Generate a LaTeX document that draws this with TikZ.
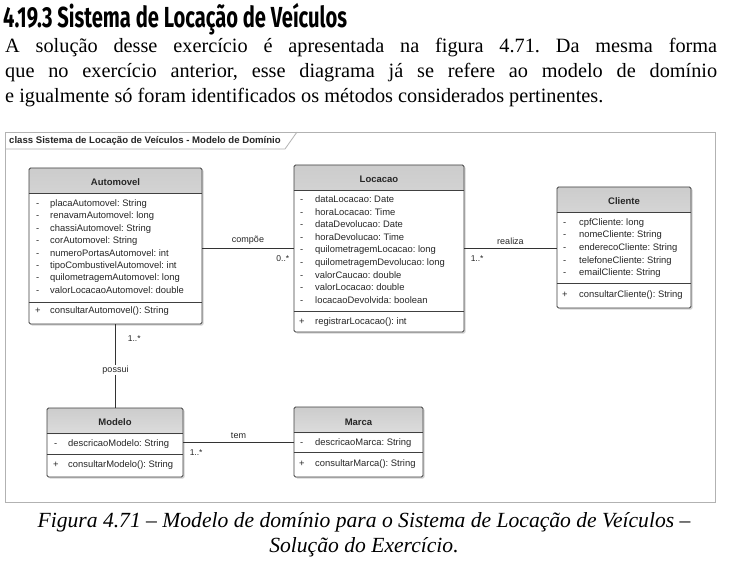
\documentclass[tikz,border=0pt]{standalone}
\usepackage{fontspec}
\setmainfont{Liberation Serif}
\setsansfont{Liberation Sans}
\newfontfamily\headfont{Fira Sans}
\usetikzlibrary{shadows}
\frenchspacing

\tikzset{
  frameline/.style={draw=black!30, line width=0.8pt},
  framelabel/.style={font=\sffamily\bfseries\fontsize{9.6}{11}\selectfont, text=black!85, inner sep=0pt},
  classbox/.style={draw=black!75, fill=white, rounded corners=1.5pt, line width=0.8pt, inner sep=0pt,
    drop shadow={shadow xshift=1.5pt, shadow yshift=-1.5pt, opacity=0.35},
    path picture={\shade[top color=black!20, bottom color=black!3]
      (path picture bounding box.north west) rectangle ([yshift=-26pt]path picture bounding box.north east);}},
  classname/.style={font=\sffamily\bfseries\fontsize{9.5}{11}\selectfont, text=black!85, inner sep=0pt},
  member/.style={font=\sffamily\fontsize{9.4}{11}\selectfont, text=black!85, anchor=west, inner sep=0pt,
    text height=7pt, text depth=2pt},
  sepline/.style={draw=black!75, line width=0.7pt},
  assoc/.style={draw=black!80, line width=0.7pt},
  assoclabel/.style={font=\sffamily\fontsize{9}{10}\selectfont, text=black!85, inner sep=1pt},
  multi/.style={font=\sffamily\fontsize{8.5}{10}\selectfont, text=black!85, inner sep=0pt}
}

\begin{document}
\begin{tikzpicture}[x=1pt,y=-1pt]
  \fill[white] (0,0) rectangle (729,567);
  \useasboundingbox (0,0) rectangle (729,567);

  % texto da pagina
  \node[anchor=base west, inner sep=0pt] (titulo) at (3,28)
    {\headfont\bfseries\fontsize{29}{32}\selectfont\scalebox{0.695}[1]{4.19.3 Sistema de Locação de Veículos}};
  \node[anchor=base west, inner sep=0pt, font=\fontsize{20.3}{25}\selectfont] (texto1) at (5,53)
    {\makebox[712pt][s]{A solução desse exercício é apresentada na figura 4.71. Da mesma forma}};
  \node[anchor=base west, inner sep=0pt, font=\fontsize{20.3}{25}\selectfont] (texto2) at (5,78)
    {\makebox[712pt][s]{que no exercício anterior, esse diagrama já se refere ao modelo de domínio}};
  \node[anchor=base west, inner sep=0pt, font=\fontsize{20.3}{25}\selectfont] (texto3) at (5,103)
    {e igualmente só foram identificados os métodos considerados pertinentes.};

  % moldura do diagrama
  \draw[frameline, fill=white] (5,132) rectangle (715,502);
  \draw[frameline] (5,149) -- (285,149) -- (297,132);
  \node[framelabel, anchor=west] (moldura) at (9,141) {class Sistema de Locação de Veículos - Modelo de Domínio};

  % Automovel
  \node[classbox, minimum width=173pt, minimum height=156pt] (auto) at (115.5,246) {};
  \node[classname] (auto-t) at (115.5,182) {Automovel};
  \draw[sepline] ([yshift=-26pt]auto.north west) -- ([yshift=-26pt]auto.north east);
  \draw[sepline] ([yshift=-135pt]auto.north west) -- ([yshift=-135pt]auto.north east);
  \foreach \attr [count=\i] in {placaAutomovel: String, renavamAutomovel: long, chassiAutomovel: String,
      corAutomovel: String, numeroPortasAutomovel: int, tipoCombustivelAutomovel: int,
      quilometragemAutomovel: long, valorLocacaoAutomovel: double} {
    \node[member] (auto-v\i) at (36,{191.6+12.4*\i}) {-};
    \node[member] (auto-a\i) at (50,{191.6+12.4*\i}) {\attr};
  }
  \node[member] (auto-p) at (35,311) {+};
  \node[member] (auto-m) at (50,311) {consultarAutomovel(): String};

  % Locacao
  \node[classbox, minimum width=170pt, minimum height=167pt] (loc) at (379,248.5) {};
  \node[classname] (loc-t) at (379,179) {Locacao};
  \draw[sepline] ([yshift=-26pt]loc.north west) -- ([yshift=-26pt]loc.north east);
  \draw[sepline] ([yshift=-146.5pt]loc.north west) -- ([yshift=-146.5pt]loc.north east);
  \foreach \attr [count=\i] in {dataLocacao: Date, horaLocacao: Time, dataDevolucao: Date,
      horaDevolucao: Time, quilometragemLocacao: long, quilometragemDevolucao: long,
      valorCaucao: double, valorLocacao: double, locacaoDevolvida: boolean} {
    \node[member] (loc-v\i) at (300,{187.4+12.6*\i}) {-};
    \node[member] (loc-a\i) at (315,{187.4+12.6*\i}) {\attr};
  }
  \node[member] (loc-p) at (299,322) {+};
  \node[member] (loc-m) at (315,322) {registrarLocacao(): int};

  % Cliente
  \node[classbox, minimum width=134pt, minimum height=121pt] (cli) at (624,247.5) {};
  \node[classname] (cli-t) at (624,201) {Cliente};
  \draw[sepline] ([yshift=-26pt]cli.north west) -- ([yshift=-26pt]cli.north east);
  \draw[sepline] ([yshift=-97pt]cli.north west) -- ([yshift=-97pt]cli.north east);
  \foreach \attr [count=\i] in {cpfCliente: long, nomeCliente: String, enderecoCliente: String,
      telefoneCliente: String, emailCliente: String} {
    \node[member] (cli-v\i) at (563,{210.1+12.6*\i}) {-};
    \node[member] (cli-a\i) at (579,{210.1+12.6*\i}) {\attr};
  }
  \node[member] (cli-p) at (562,294.5) {+};
  \node[member] (cli-m) at (579,294.5) {consultarCliente(): String};

  % Modelo
  \node[classbox, minimum width=136pt, minimum height=69pt] (mod) at (115,442.5) {};
  \node[classname] (mod-t) at (115,422) {Modelo};
  \draw[sepline] ([yshift=-26pt]mod.north west) -- ([yshift=-26pt]mod.north east);
  \draw[sepline] ([yshift=-47pt]mod.north west) -- ([yshift=-47pt]mod.north east);
  \node[member] (mod-v1) at (54,444) {-};
  \node[member] (mod-a1) at (68,444) {descricaoModelo: String};
  \node[member] (mod-p) at (53,465) {+};
  \node[member] (mod-m) at (68,465) {consultarModelo(): String};

  % Marca
  \node[classbox, minimum width=129pt, minimum height=70pt] (mar) at (358.5,442) {};
  \node[classname] (mar-t) at (358.5,422) {Marca};
  \draw[sepline] ([yshift=-26pt]mar.north west) -- ([yshift=-26pt]mar.north east);
  \draw[sepline] ([yshift=-46pt]mar.north west) -- ([yshift=-46pt]mar.north east);
  \node[member] (mar-v1) at (300,443) {-};
  \node[member] (mar-a1) at (315,443) {descricaoMarca: String};
  \node[member] (mar-p) at (299,463.5) {+};
  \node[member] (mar-m) at (315,463.5) {consultarMarca(): String};

  % associacoes
  \draw[assoc] (loc.west -| auto.east) -- (loc.west)
    node[midway, above=3pt, assoclabel] (compoe) {compõe}
    node[pos=1, anchor=north east, xshift=-4pt, yshift=-7pt, multi] (compoe-m) {0..*};
  \draw[assoc] (loc.east) -- (loc.east -| cli.west)
    node[midway, above=3pt, assoclabel] (realiza) {realiza}
    node[pos=0, anchor=north west, xshift=6pt, yshift=-7pt, multi] (realiza-m) {1..*};
  \draw[assoc] (auto.south) -- (auto.south |- mod.north)
    node[pos=0.55, fill=white, assoclabel] (possui) {possui}
    node[pos=0, anchor=north west, xshift=12pt, yshift=-11pt, multi] (possui-m) {1..*};
  \draw[assoc] (mod.east) -- (mod.east -| mar.west)
    node[midway, above=3pt, assoclabel] (tem) {tem}
    node[pos=0, anchor=north west, xshift=6pt, yshift=-7pt, multi] (tem-m) {1..*};

  % legenda
  \node[anchor=base, inner sep=0pt, font=\itshape\fontsize{21.6}{25}\selectfont] (legenda1) at (364,527)
    {Figura 4.71 – Modelo de domínio para o Sistema de Locação de Veículos –};
  \node[anchor=base, inner sep=0pt, font=\itshape\fontsize{21.6}{25}\selectfont] (legenda2) at (364,552)
    {Solução do Exercício.};
\end{tikzpicture}
\end{document}
